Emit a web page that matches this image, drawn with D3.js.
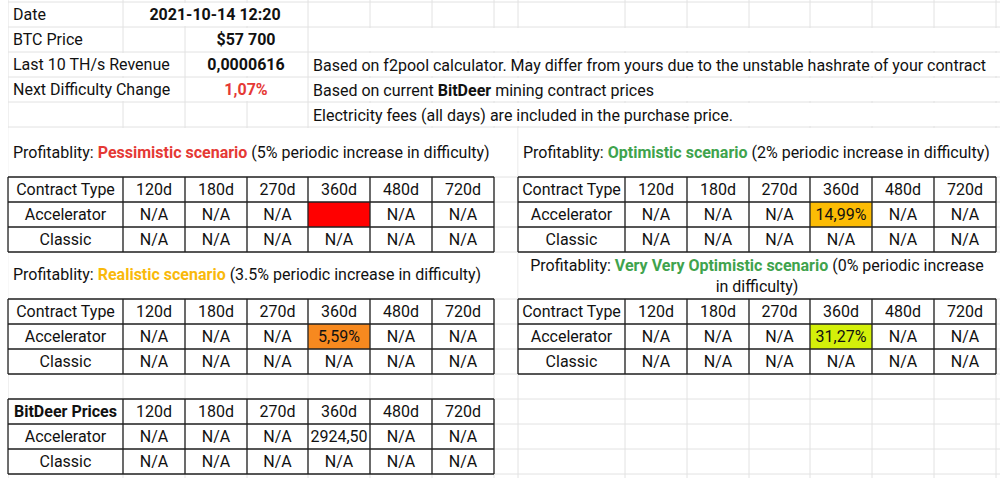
<!DOCTYPE html>
<html><head><meta charset="utf-8">
<script src="https://cdn.jsdelivr.net/npm/d3@7"></script>
<style>body{margin:0;background:#fff}svg{font-family:Roboto,sans-serif}</style>
</head><body><div id="container"></div>
<script>
const periods = ["120d", "180d", "270d", "360d", "480d", "720d"];
const contracts = ["Accelerator", "Classic"];
const infoLabels = ["Date", "BTC Price", "Last 10 TH/s Revenue", "Next Difficulty Change"];
const infoValues = ["2021-10-14 12:20", "$57 700", "0,0000616", "1,07%"];
const notes = [
  [{t: "Based on f2pool calculator. May differ from yours due to the unstable hashrate of your contract"}],
  [{t: "Based on current "}, {t: "BitDeer", b: true}, {t: " mining contract prices"}],
  [{t: "Electricity fees (all days) are included in the purchase price."}]
];
// scenario tables: value for Accelerator x periods; null => N/A
const scenarios = [
  {name: "Pessimistic scenario", color: "#e53935", rest: " (5% periodic increase in difficulty)",
   acc: [null, null, null, "", null, null], fill: "#ff0000"},
  {name: "Optimistic scenario", color: "#3fa34d", rest: " (2% periodic increase in difficulty)",
   acc: [null, null, null, "14,99%", null, null], fill: "#fcbc05"},
  {name: "Realistic scenario", color: "#f9b90b", rest: " (3.5% periodic increase in difficulty)",
   acc: [null, null, null, "5,59%", null, null], fill: "#f7891f"},
  {name: "Very Very Optimistic scenario", color: "#3fa34d", rest: " (0% periodic increase", rest2: "in difficulty)",
   acc: [null, null, null, "31,27%", null, null], fill: "#d4f00a"}
];
const bitdeerAcc = [null, null, null, "2924,50", null, null];

const width = 1000, height = 478, FS = 16;
const svg = d3.select("#container").append("svg").attr("width", width).attr("height", height);

// background spreadsheet grid
const gridX = [8, 123, 185, 247, 308, 370, 432, 494, 518, 625, 687, 749, 810, 872, 934, 996];
const gridY = [2, 27, 52, 77, 102, 127, 177, 202, 227, 252, 299, 324, 349, 374, 399, 424, 449, 474];
const grid = svg.append("g").attr("stroke", "#e2e2e2");
grid.selectAll("line.v").data(gridX).join("line").attr("x1", d => d).attr("x2", d => d).attr("y1", 0).attr("y2", height);
grid.selectAll("line.h").data(gridY).join("line").attr("x1", 0).attr("x2", width).attr("y1", d => d).attr("y2", d => d);

// cover merged areas with white
const white = (x, y, w, h) => svg.append("rect").attr("x", x).attr("y", y).attr("width", w).attr("height", h).attr("fill", "#fff");
white(124, 3, 183, 23); white(186, 28, 121, 23);
white(309, 28, 690, 23); white(309, 53, 690, 23); white(309, 78, 690, 23); white(309, 103, 690, 23);
white(9, 53, 175, 23); white(9, 78, 175, 23); white(186, 53, 121, 23); white(186, 78, 121, 23);
white(8.5, 128, 490, 48); white(518.5, 128, 480, 48);
white(8.5, 253, 490, 45); white(518.5, 253, 480, 45);
white(0, 0, 8, height);

const txt = (x, y, s, opt = {}) => svg.append("text").attr("x", x).attr("y", y)
  .attr("font-size", opt.size || FS).attr("fill", opt.fill || "#111")
  .attr("font-weight", opt.bold ? "bold" : null)
  .attr("text-anchor", opt.anchor || "start").text(s);

infoLabels.forEach((l, i) => txt(13, 20 + i * 25, l));
infoValues.forEach((v, i) => txt(i === 0 ? 215 : 246, 20 + i * 25, v, {bold: true, anchor: "middle", fill: i === 3 ? "#e53935" : "#111"}));
notes.forEach((parts, i) => {
  const t = svg.append("text").attr("x", 313).attr("y", 71 + i * 25).attr("font-size", FS).attr("fill", "#111");
  parts.forEach(p => t.append("tspan").attr("font-weight", p.b ? "bold" : null).text(p.t));
});

const cols = (x0) => [x0].concat(gridX.slice(x0 < 500 ? 1 : 9, x0 < 500 ? 8 : 16));
const drawTable = (x0, y0, head, headBold, accRow, fill) => {
  const xs = cols(x0);
  const ys = [y0, y0 + 25, y0 + 50, y0 + 75];
  const g = svg.append("g");
  if (fill) {
    const idx = accRow.findIndex(v => v !== null);
    g.append("rect").attr("x", xs[idx + 1]).attr("y", ys[1]).attr("width", xs[idx + 2] - xs[idx + 1]).attr("height", 25).attr("fill", fill);
  }
  const rows = [[head].concat(periods), [contracts[0]].concat(accRow.map(v => v === null ? "N/A" : v)), [contracts[1]].concat(periods.map(() => "N/A"))];
  rows.forEach((r, ri) => r.forEach((c, ci) => {
    txt((xs[ci] + xs[ci + 1]) / 2, ys[ri] + 18, c, {anchor: "middle", bold: ri === 0 && ci === 0 && headBold});
  }));
  g.selectAll("line.v").data(xs).join("line").attr("x1", d => d).attr("x2", d => d).attr("y1", y0).attr("y2", y0 + 75).attr("stroke", "#222").attr("stroke-width", 1.3);
  g.selectAll("line.h").data(ys).join("line").attr("x1", xs[0]).attr("x2", xs[7]).attr("y1", d => d).attr("y2", d => d).attr("stroke", "#222").attr("stroke-width", 1.3);
};

const title = (x, y, sc, anchor) => {
  const t = svg.append("text").attr("x", x).attr("y", y).attr("font-size", FS).attr("fill", "#111").attr("text-anchor", anchor);
  t.append("tspan").text("Profitablity: ");
  t.append("tspan").attr("fill", sc.color).attr("font-weight", "bold").text(sc.name);
  t.append("tspan").text(sc.rest);
  if (sc.rest2) txt(757, y + 21, sc.rest2, {anchor: "middle"});
};

title(13, 158, scenarios[0], "start");
title(523, 158, scenarios[1], "start");
title(13, 280, scenarios[2], "start");
title(757, 271, scenarios[3], "middle");

drawTable(8, 177, "Contract Type", false, scenarios[0].acc, scenarios[0].fill);
drawTable(518, 177, "Contract Type", false, scenarios[1].acc, scenarios[1].fill);
drawTable(8, 299, "Contract Type", false, scenarios[2].acc, scenarios[2].fill);
drawTable(518, 299, "Contract Type", false, scenarios[3].acc, scenarios[3].fill);
drawTable(8, 399, "BitDeer Prices", true, bitdeerAcc, null);
</script></body></html>
